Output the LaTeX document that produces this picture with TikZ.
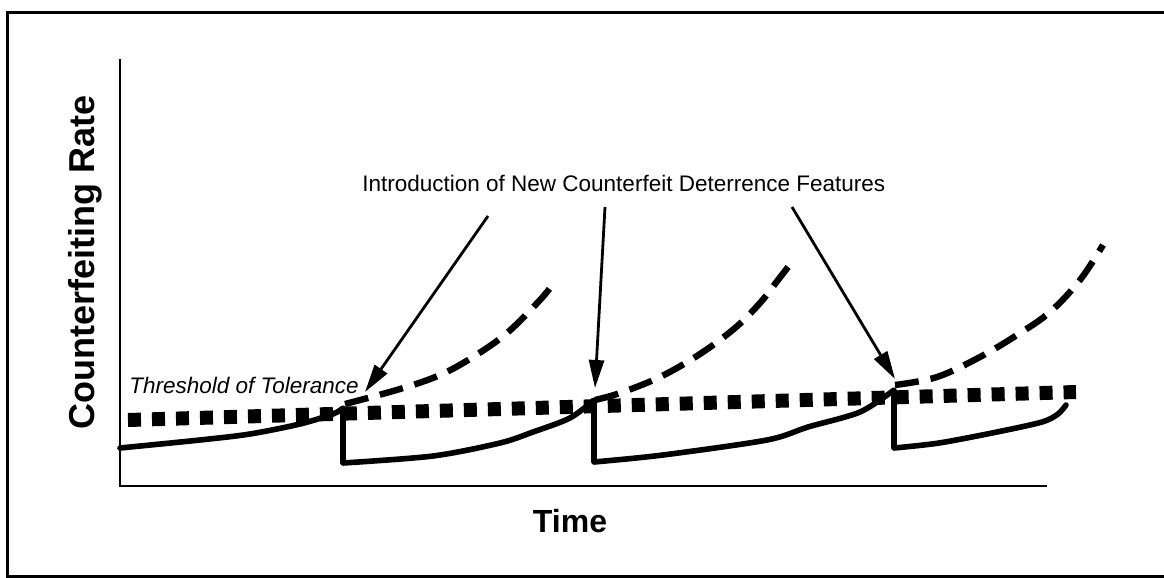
\documentclass[tikz,border=0pt]{standalone}
\usepackage{fontspec}
\setmainfont{Liberation Sans}
\usetikzlibrary{arrows.meta}
\begin{document}
\begin{tikzpicture}[x=0.5pt,y=-0.5pt,
  outerframe/.style={line width=1.5pt},
  axisline/.style={line width=1.3pt},
  rateline/.style={line width=2.8pt, line join=round, line cap=round},
  projected/.style={line width=3.2pt, dash pattern=on 12pt off 6pt},
  tolerance/.style={line width=7pt, dash pattern=on 6.5pt off 5.5pt},
  pointer/.style={line width=1.4pt, -{Triangle[length=14pt,width=7.5pt]}},
  txt/.style={font=\fontsize{11.25}{13.5}\selectfont, inner sep=0pt},
  axislabel/.style={font=\fontsize{16}{19}\selectfont\bfseries, inner sep=0pt}]
\useasboundingbox (0,0) rectangle (1164,578);
% frame (right side lies beyond the picture)
\draw[outerframe] (1180,12) -- (7,12) -- (7,576) -- (1180,576);
% axes
\coordinate (ytop) at (120,59);
\coordinate (origin) at (120,486);
\coordinate (xend) at (1047,486);
\draw[axisline] (ytop) -- (origin) -- (xend);
% axis labels
\node[axislabel, font=\fontsize{18}{21}\selectfont\bfseries, rotate=90] (ylab) at (85,262) {Counterfeiting Rate};
\node[axislabel, anchor=base] (xlab) at (570,532) {Time};
% threshold of tolerance
\draw[tolerance] (128,420) -- (1076,392);
\node[txt, anchor=base west, font=\fontsize{11.25}{13.5}\selectfont\itshape] (thr) at (129,393) {Threshold of Tolerance};
% projected (dashed) growth
\draw[projected] plot[smooth, tension=0.6] coordinates {(345,404) (400,389) (440,375) (473,357) (507,333) (540,300) (553,284)};
\draw[projected] plot[smooth, tension=0.6] coordinates {(595,400) (620,393) (660,377) (700,354) (735,328) (760,303) (778,280) (795,258)};
\draw[projected] plot[smooth, tension=0.6] coordinates {(895,385) (937,377) (980,357) (1017,335) (1050,312) (1080,280) (1103,245)};
% actual counterfeiting rate
\draw[rateline] plot[smooth, tension=0.5] coordinates {(120,448) (200,440) (250,434) (300,424) (333,414) (343,408)}
  -- (343,463)
  plot[smooth, tension=0.5] coordinates {(343,463) (433,456) (500,443) (533,432) (570,418) (594,400)}
  -- (594,462)
  plot[smooth, tension=0.5] coordinates {(594,462) (663,455) (767,440) (808,427) (860,412) (894,390)}
  -- (894,448)
  plot[smooth, tension=0.5] coordinates {(894,448) (939,443) (997,432) (1042,422) (1058,414) (1066,405)};
% annotation
\node[txt, anchor=base west] (intro) at (362,191) {Introduction of New Counterfeit Deterrence Features};
\coordinate (a1s) at (488,216);
\coordinate (a1t) at (365,392);
\coordinate (a2s) at (605,207);
\coordinate (a2t) at (595,388);
\coordinate (a3s) at (792,207);
\coordinate (a3t) at (895,379);
\draw[pointer] (a1s) -- (a1t);
\draw[pointer] (a2s) -- (a2t);
\draw[pointer] (a3s) -- (a3t);
\end{tikzpicture}
\end{document}
